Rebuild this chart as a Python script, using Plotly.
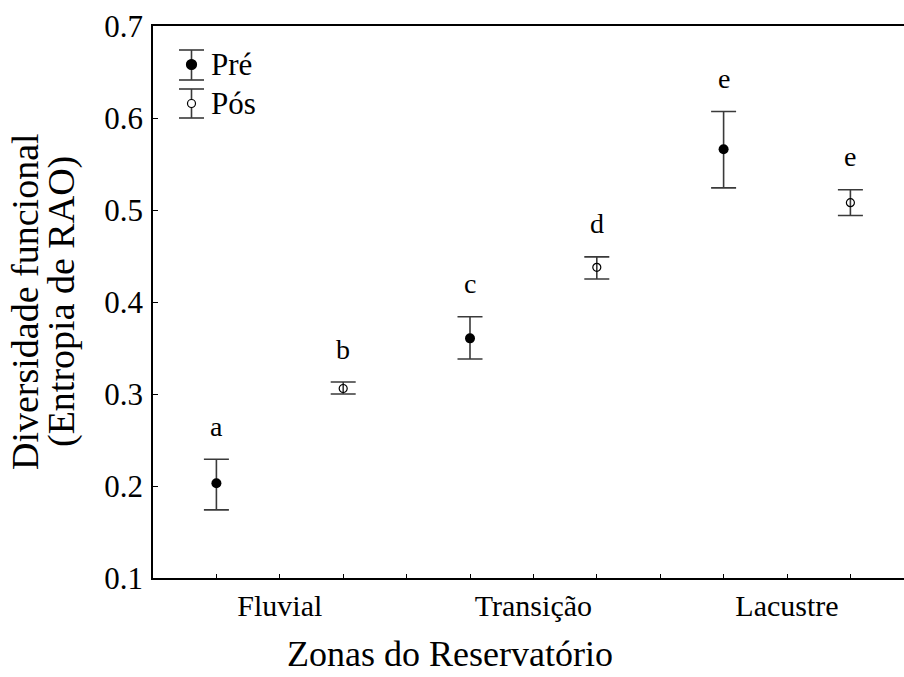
import plotly.graph_objects as go

# Reservoir zones and functional diversity (Rao's quadratic entropy)
zonas = ["Fluvial", "Transição", "Lacustre"]

pre_media = [0.203, 0.3605, 0.566]
pre_sup = [0.229, 0.384, 0.607]
pre_inf = [0.174, 0.338, 0.524]

pos_media = [0.306, 0.4377, 0.508]
pos_sup = [0.313, 0.449, 0.522]
pos_inf = [0.300, 0.425, 0.494]

letras_pre = ["a", "c", "e"]
letras_pos = ["b", "d", "e"]

SERIF = "Liberation Serif"
ERR_COLOR = "#3a3a3a"

# numeric x positions: each zone spans 4 units, Pré at 4i+1, Pós at 4i+3
x_pre = [4 * i + 1 for i in range(len(zonas))]
x_pos = [4 * i + 3 for i in range(len(zonas))]
x_zona = [4 * i + 2 for i in range(len(zonas))]

fig = go.Figure()

fig.add_trace(go.Scatter(
    x=x_pre, y=pre_media, mode="markers", name="Pré",
    marker=dict(symbol="circle", size=10, color="black"),
    error_y=dict(type="data", symmetric=False,
                 array=[s - m for s, m in zip(pre_sup, pre_media)],
                 arrayminus=[m - i for m, i in zip(pre_media, pre_inf)],
                 color=ERR_COLOR, thickness=1.6, width=12.5),
    showlegend=False,
))
fig.add_trace(go.Scatter(
    x=x_pos, y=pos_media, mode="markers", name="Pós",
    marker=dict(symbol="circle-open", size=8, color="black",
                line=dict(width=1.2, color="black")),
    error_y=dict(type="data", symmetric=False,
                 array=[s - m for s, m in zip(pos_sup, pos_media)],
                 arrayminus=[m - i for m, i in zip(pos_media, pos_inf)],
                 color=ERR_COLOR, thickness=1.6, width=12.5),
    showlegend=False,
))

annotations = []
for xs, sup, letras in ((x_pre, pre_sup, letras_pre), (x_pos, pos_sup, letras_pos)):
    for x, s, t in zip(xs, sup, letras):
        annotations.append(dict(
            x=x, y=s, xref="x", yref="y", text=t, showarrow=False,
            yanchor="middle", yshift=33,
            font=dict(family=SERIF, size=28, color="black")))

# plot-area geometry used for the legend and the axis titles (pixels)
W, H = 904, 677
ML, MR, MT, MB = 153, 0, 26, 99
PW, PH = W - ML - MR, H - MT - MB


def px(xp):
    return (xp - ML) / PW


def py(yp):
    return (H - MB - yp) / PH


shapes = []
# hand-drawn legend: error-bar glyph + marker
legend_items = [
    ("Pré", 50, 80, 64.5, "black", 5.0),
    ("Pós", 89, 118, 103.5, "white", 4.0),
]
cx, half = 191.5, 12.5
for label, top, bot, mid, fill, r in legend_items:
    shapes.append(dict(type="line", xref="paper", yref="paper",
                       x0=px(cx), x1=px(cx), y0=py(top), y1=py(bot),
                       line=dict(color=ERR_COLOR, width=1.6)))
    for yy in (top, bot):
        shapes.append(dict(type="line", xref="paper", yref="paper",
                           x0=px(cx - half), x1=px(cx + half), y0=py(yy), y1=py(yy),
                           line=dict(color=ERR_COLOR, width=1.6)))
    shapes.append(dict(type="circle", xref="paper", yref="paper",
                       x0=px(cx - r), x1=px(cx + r), y0=py(mid - r), y1=py(mid + r),
                       fillcolor=fill, line=dict(color="black", width=1.2)))
    annotations.append(dict(
        x=px(209), y=py(mid), xref="paper", yref="paper", text=label,
        showarrow=False, xanchor="left", yanchor="middle",
        font=dict(family=SERIF, size=31, color="black")))

# two-line rotated y title with tight line spacing
for linha, xc in (("Diversidade funcional", 25), ("(Entropia de RAO)", 61)):
    annotations.append(dict(
        x=px(xc), y=0.5, xref="paper", yref="paper", text=linha,
        showarrow=False, textangle=-90, xanchor="center", yanchor="middle",
        font=dict(family=SERIF, size=38, color="black")))

# x title, kept inside the bottom edge
annotations.append(dict(
    x=px(450), y=py(H - 1), xref="paper", yref="paper",
    text="Zonas do Reservatório", showarrow=False,
    xanchor="center", yanchor="bottom",
    font=dict(family=SERIF, size=36, color="black")))

ticks_x = list(range(1, 12))
ticktext_x = [zonas[x_zona.index(t)] if t in x_zona else "" for t in ticks_x]

fig.update_layout(
    width=W, height=H,
    margin=dict(l=ML, r=MR, t=MT, b=MB),
    paper_bgcolor="white", plot_bgcolor="white",
    font=dict(family=SERIF, color="black"),
    shapes=shapes,
    annotations=annotations,
    xaxis=dict(
        range=[0, PW / 63.4], showgrid=False, zeroline=False,
        showline=True, linecolor="black", linewidth=1.5, mirror=True,
        tickmode="array", tickvals=ticks_x, ticktext=ticktext_x,
        ticks="inside", ticklen=4, tickcolor="black", tickwidth=1,
        tickfont=dict(family=SERIF, size=30, color="black"),
    ),
    yaxis=dict(
        range=[0.1, 0.7], showgrid=False, zeroline=False,
        showline=True, linecolor="black", linewidth=1.5,
        tickmode="array", tickvals=[0.1, 0.2, 0.3, 0.4, 0.5, 0.6, 0.7],
        ticktext=["0.1", "0.2", "0.3", "0.4", "0.5", "0.6", "0.7"],
        ticks="inside", ticklen=5, tickcolor="black", tickwidth=1,
        ticklabelstandoff=2,
        tickfont=dict(family=SERIF, size=31, color="black"),
    ),
)

fig.write_html("out.html")
